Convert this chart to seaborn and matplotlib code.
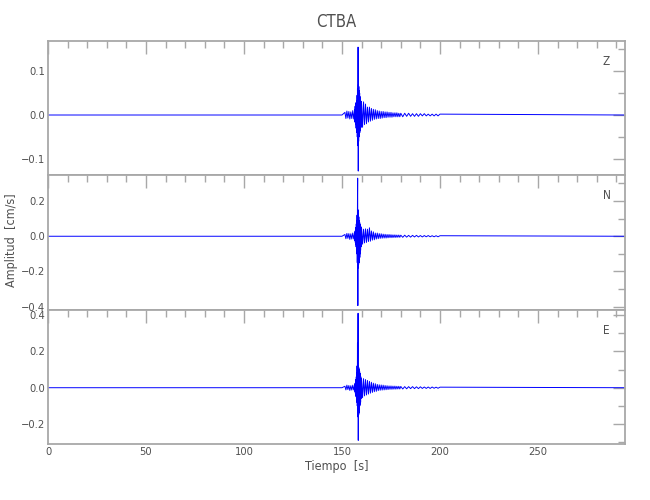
import matplotlib
matplotlib.use('Agg')
import matplotlib.pyplot as plt
from matplotlib.ticker import MultipleLocator
import numpy as np
import pandas as pd
import seaborn as sns

# Station CTBA, velocity traces (cm/s)
station = 'CTBA'
components = ['Z', 'N', 'E']

tiempo = [0.0, 150.0,
          151.5, 152.0, 152.5, 153.0, 153.5, 154.0, 154.5, 155.0, 155.5, 156.0, 156.5,
          156.6, 156.7, 156.8, 156.9, 157.0, 157.1, 157.2, 157.3, 157.4, 157.5,
          157.6, 157.7, 157.8, 157.9, 158.0,
          158.1, 158.2, 158.3, 158.4, 158.5, 158.6, 158.7, 158.8, 158.9, 159.0,
          159.1, 159.2, 159.3, 159.4, 159.5, 159.6, 159.7, 159.8, 159.9, 160.0,
          160.5, 161.0, 161.5, 162.0, 162.5, 163.0, 163.5, 164.0, 164.5, 165.0,
          165.5, 166.0, 166.5, 167.0, 167.5, 168.0, 168.5, 169.0, 169.5, 170.0,
          170.5, 171.0, 171.5, 172.0, 172.5, 173.0, 173.5, 174.0, 174.5, 175.0,
          175.5, 176.0, 176.5, 177.0, 177.5, 178.0, 178.5, 179.0, 179.5, 180.0,
          181, 182, 183, 184, 185, 186, 187, 188, 189, 190,
          191, 192, 193, 194, 195, 196, 197, 198, 199, 200,
          294.0]

amp_z = [0.0, 0.0,
         0.006, -0.008, 0.009, -0.007, 0.008, -0.009, 0.007, -0.008, 0.010, -0.009, 0.012,
         -0.015, 0.020, -0.018, 0.025, -0.022, 0.028, -0.030, 0.026, -0.035, 0.032,
         -0.040, 0.045, -0.050, 0.060, -0.055,
         -0.070, 0.155, -0.128, 0.070, -0.060, 0.065, -0.050, 0.055, -0.045, 0.050,
         -0.040, 0.042, -0.035, 0.038, -0.030, 0.032, -0.028, 0.030, -0.025, 0.026,
         -0.028, 0.030, -0.022, 0.025, -0.020, 0.018, -0.016, 0.018, -0.014, 0.015,
         -0.012, 0.013, -0.010, 0.012, -0.009, 0.010, -0.008, 0.009, -0.008, 0.008,
         -0.007, 0.008, -0.006, 0.007, -0.006, 0.007, -0.005, 0.006, -0.005, 0.006,
         -0.005, 0.005, -0.004, 0.005, -0.004, 0.005, -0.004, 0.004, -0.004, 0.004,
         -0.004, 0.004, -0.003, 0.004, -0.003, 0.003, -0.003, 0.003, -0.003, 0.003,
         -0.002, 0.003, -0.002, 0.002, -0.002, 0.002, -0.002, 0.002, -0.002, 0.002,
         0.0]

amp_n = [0.0, 0.0,
         0.010, -0.014, 0.016, -0.012, 0.015, -0.018, 0.014, -0.016, 0.018, -0.015, 0.020,
         -0.025, 0.030, -0.035, 0.040, -0.045, 0.050, -0.060, 0.070, -0.080, 0.090,
         -0.100, 0.120, -0.150, 0.200, 0.330,
         -0.394, 0.150, -0.180, 0.130, -0.160, 0.110, -0.150, 0.090, -0.140, 0.080,
         -0.120, 0.070, -0.100, 0.060, -0.080, 0.055, -0.060, 0.050, -0.050, 0.045,
         -0.045, 0.040, -0.038, 0.042, -0.035, 0.040, -0.030, 0.048, -0.028, 0.030,
         -0.022, 0.025, -0.020, 0.018, -0.016, 0.018, -0.014, 0.015, -0.012, 0.014,
         -0.011, 0.012, -0.010, 0.011, -0.010, 0.010, -0.009, 0.010, -0.008, 0.009,
         -0.008, 0.008, -0.007, 0.008, -0.007, 0.007, -0.006, 0.007, -0.006, 0.006,
         -0.006, 0.006, -0.005, 0.005, -0.005, 0.005, -0.004, 0.005, -0.004, 0.004,
         -0.004, 0.004, -0.003, 0.004, -0.003, 0.003, -0.003, 0.003, -0.003, 0.003,
         0.0]

amp_e = [0.0, 0.0,
         0.008, -0.012, 0.014, -0.010, 0.012, -0.015, 0.011, -0.013, 0.014, -0.012, 0.016,
         -0.020, 0.025, -0.030, 0.035, -0.040, 0.045, -0.050, 0.060, -0.060, 0.080,
         -0.080, 0.120, -0.100, 0.245, -0.160,
         0.140, 0.410, -0.290, 0.120, -0.150, 0.110, -0.140, 0.100, -0.120, 0.090,
         -0.100, 0.080, -0.090, 0.070, -0.080, 0.060, -0.060, 0.050, -0.050, 0.045,
         -0.055, 0.050, -0.045, 0.045, -0.040, 0.040, -0.035, 0.035, -0.030, 0.030,
         -0.026, 0.025, -0.022, 0.022, -0.020, 0.018, -0.016, 0.016, -0.014, 0.015,
         -0.013, 0.014, -0.012, 0.012, -0.011, 0.011, -0.010, 0.010, -0.009, 0.010,
         -0.009, 0.009, -0.008, 0.009, -0.008, 0.008, -0.007, 0.008, -0.007, 0.007,
         -0.007, 0.006, -0.006, 0.006, -0.005, 0.006, -0.005, 0.005, -0.005, 0.005,
         -0.004, 0.004, -0.004, 0.004, -0.004, 0.004, -0.003, 0.003, -0.003, 0.003,
         0.0]

ylims = [(-0.137, 0.169), (-0.419, 0.348), (-0.31, 0.428)]
y_major = [0.1, 0.2, 0.2]
x_max = 294.4

sns.set_theme(style='white')
plt.rcParams['font.family'] = ['DejaVu Sans']
plt.rcParams['font.stretch'] = 'condensed'

gris = '#a8a8a8'
texto = '#505050'

fig = plt.figure(figsize=(6.5, 5), dpi=100)
left, width = 48 / 650, 577 / 650
tops = [41, 175, 310]
bottoms = [175, 310, 444]

series = [amp_z, amp_n, amp_e]
axes = []
for i, comp in enumerate(components):
    y0 = 1 - bottoms[i] / 500
    h = (bottoms[i] - tops[i]) / 500
    ax = fig.add_axes([left, y0, width, h])
    df = pd.DataFrame({'t': tiempo, 'amp': series[i]})
    sns.lineplot(data=df, x='t', y='amp', ax=ax, estimator=None, sort=False,
                 color='#0000ff', linewidth=0.7)
    ax.set_xlim(0, x_max)
    ax.set_ylim(*ylims[i])
    ax.xaxis.set_major_locator(MultipleLocator(50))
    ax.xaxis.set_minor_locator(MultipleLocator(10))
    ax.yaxis.set_major_locator(MultipleLocator(y_major[i]))
    ax.yaxis.set_minor_locator(MultipleLocator(y_major[i] / 2))
    ax.tick_params(which='both', direction='in', top=True, right=True,
                   color=gris, labelcolor=texto, labelsize=8, width=1, pad=2)
    ax.tick_params(which='major', length=9)
    ax.tick_params(which='minor', length=5)
    for s in ax.spines.values():
        s.set_color(gris)
        s.set_linewidth(1.3)
    ax.set_xlabel('')
    ax.set_ylabel('')
    ax.text(0.968, 0.85, comp, transform=ax.transAxes, ha='center', va='center',
            fontsize=8.5, color=texto)
    if i < 2:
        ax.tick_params(labelbottom=False)
    axes.append(ax)

axes[-1].set_xlabel('Tiempo  [s]', fontsize=9, color=texto, labelpad=2)
fig.text(0.5177, 1 - 22 / 500, station, ha='center', va='center',
         fontsize=12, color=texto)
fig.text(12 / 650, 1 - 240 / 500, 'Amplitud  [cm/s]', rotation=90,
         ha='center', va='center', fontsize=9, color=texto)

fig.savefig('out.png', dpi=100)
